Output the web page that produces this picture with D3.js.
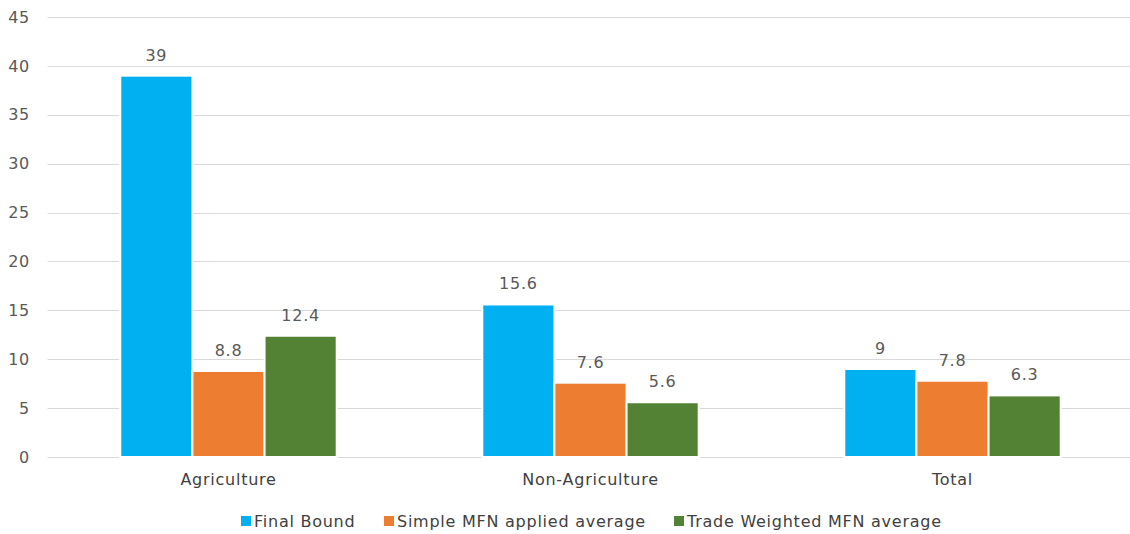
<!DOCTYPE html>
<html>
<head>
<meta charset="utf-8">
<script src="https://cdn.jsdelivr.net/npm/d3@7"></script>
<style>
  body { margin: 0; background: #fff; }
  svg text { font-family: "DejaVu Sans", Verdana, sans-serif; fill: #595959; letter-spacing: 0.75px; }
</style>
</head>
<body>
<svg id="canvas"></svg>
<script>
// chart values
var categories = ["Agriculture", "Non-Agriculture", "Total"];
var seriesNames = ["Final Bound", "Simple MFN applied average", "Trade Weighted MFN average"];
var finalBound = [39, 15.6, 9];
var simpleMfn = [8.8, 7.6, 7.8];
var tradeWeighted = [12.4, 5.6, 6.3];
var yTicks = [0, 5, 10, 15, 20, 25, 30, 35, 40, 45];

var colors = ["#00B0F0", "#ED7D31", "#548235"];
var seriesValues = [finalBound, simpleMfn, tradeWeighted];

var width = 1130, height = 534;

var svg = d3.select("#canvas")
    .attr("width", width)
    .attr("height", height);

var x = d3.scaleBand()
    .domain(categories)
    .range([47.5, 1133.5])
    .paddingInner(0)
    .paddingOuter(0);

var groupWidth = 216.4;
var x1 = d3.scaleBand()
    .domain(seriesNames)
    .range([0, groupWidth]);

var y = d3.scaleLinear()
    .domain([0, 45])
    .range([457, 17]);

// gridlines
svg.append("g")
    .selectAll("line")
    .data(yTicks)
    .enter().append("line")
    .attr("x1", 47.5)
    .attr("x2", width)
    .attr("y1", function(d) { return Math.round(y(d)) + 0.5; })
    .attr("y2", function(d) { return Math.round(y(d)) + 0.5; })
    .attr("stroke", "#D9D9D9")
    .attr("stroke-width", 1);

// y axis labels
var yAxis = d3.axisLeft(y)
    .tickValues(yTicks)
    .tickSize(0)
    .tickPadding(0);

var yAxisG = svg.append("g")
    .attr("transform", "translate(30,0)")
    .call(yAxis);
yAxisG.select(".domain").remove();
yAxisG.selectAll("text")
    .attr("font-family", null)
    .style("font-size", "16px")
    .style("fill", "#595959");

// bars
var groups = svg.append("g")
    .selectAll("g")
    .data(categories)
    .enter().append("g")
    .attr("transform", function(d) {
        return "translate(" + (x(d) + (x.bandwidth() - groupWidth) / 2) + ",0)";
    });

groups.selectAll("rect")
    .data(function(d, i) {
        return seriesNames.map(function(s, j) { return {s: s, j: j, v: seriesValues[j][i]}; });
    })
    .enter().append("rect")
    .attr("x", function(d) { return x1(d.s); })
    .attr("y", function(d) { return y(d.v); })
    .attr("width", x1.bandwidth())
    .attr("height", function(d) { return y(0) - y(d.v); })
    .attr("fill", function(d) { return colors[d.j]; })
    .attr("stroke", "#fff")
    .attr("stroke-width", 2);

// value labels
groups.selectAll("text")
    .data(function(d, i) {
        return seriesNames.map(function(s, j) { return {s: s, j: j, v: seriesValues[j][i]}; });
    })
    .enter().append("text")
    .attr("x", function(d) { return x1(d.s) + x1.bandwidth() / 2; })
    .attr("y", function(d) { return y(d.v) - 15; })
    .attr("text-anchor", "middle")
    .style("font-size", "16px")
    .text(function(d) { return d.v; });

// x axis labels
var xAxis = d3.axisBottom(x).tickSize(0).tickPadding(0);
var xAxisG = svg.append("g")
    .attr("transform", "translate(0,474)")
    .call(xAxis);
xAxisG.select(".domain").remove();
xAxisG.selectAll("text")
    .attr("font-family", null)
    .attr("dy", "0.71em")
    .style("font-size", "16px")
    .style("fill", "#404040");

// legend
var legendX = [241, 384, 674];
var legend = svg.append("g")
    .selectAll("g")
    .data(seriesNames)
    .enter().append("g")
    .attr("transform", function(d, i) { return "translate(" + legendX[i] + ",516)"; });

legend.append("rect")
    .attr("width", 10)
    .attr("height", 10)
    .attr("fill", function(d, i) { return colors[i]; });

legend.append("text")
    .attr("x", 13)
    .attr("y", 5)
    .attr("dy", "0.35em")
    .style("font-size", "16px")
    .style("fill", "#404040")
    .text(function(d) { return d; });
</script>
</body>
</html>
